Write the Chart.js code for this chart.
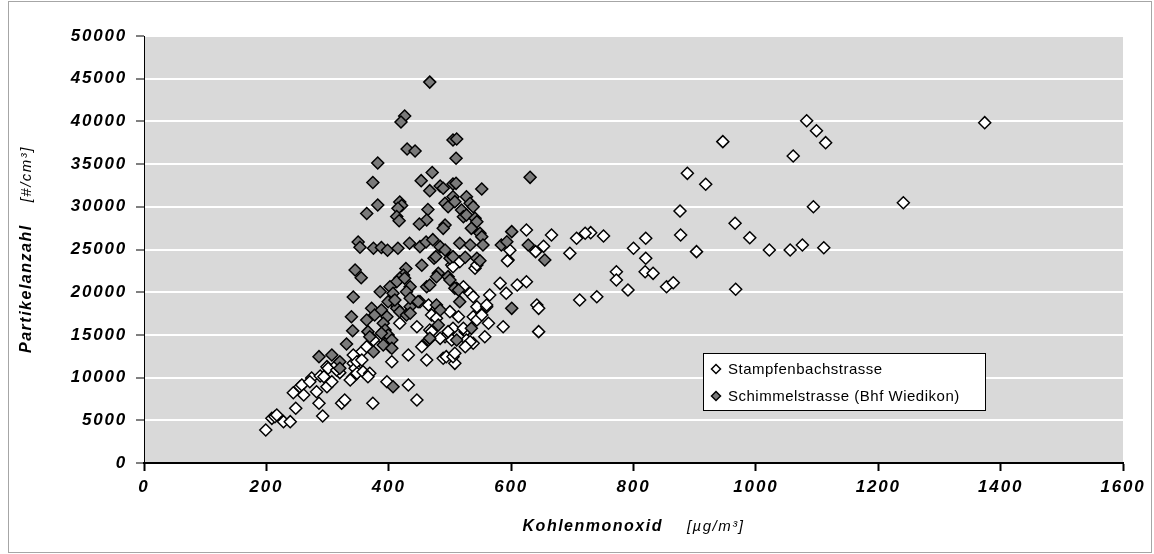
<!DOCTYPE html>
<html>
<head>
<meta charset="utf-8">
<script src="https://cdn.jsdelivr.net/npm/chart.js@4.4.0/dist/chart.umd.min.js"></script>
<style>
    html, body { margin: 0; padding: 0; background: #ffffff; }
    #wrap { position: relative; width: 1154px; height: 554px; }
    #frame { position: absolute; left: 8px; top: 1px; width: 1142px; height: 550px; border: 1px solid #a6a6a6; pointer-events: none; }
</style>
</head>
<body>
<div id="wrap">
    <canvas id="myChart" width="1154" height="554"></canvas>
    <div id="frame"></div>
</div>
<script>
"use strict";

// axis ranges / ticks
const xMin = 0, xMax = 1600, xStep = 200;
const yMin = 0, yMax = 50000, yStep = 5000;

const xTitle = "Kohlenmonoxid";
const xUnit = "[µg/m³]";
const yTitle = "Partikelanzahl";
const yUnit = "[#/cm³]";

const seriesNames = ["Stampfenbachstrasse", "Schimmelstrasse (Bhf Wiedikon)"];

// Stampfenbachstrasse: CO [µg/m3] and particle count [#/cm3]
const stampfenbachCO = [
    199, 209, 214, 217, 228, 239, 248, 244, 255, 258, 261, 274, 271, 282, 286, 292,
    288, 294, 299, 301, 299, 307, 320, 315, 323, 328, 342, 345, 342, 337, 348, 358,
    356, 364, 369, 366, 374, 386, 397, 405, 418, 432, 432, 446, 446, 451, 465, 454,
    470, 478, 462, 489, 494, 492, 505, 503, 500, 508, 505, 511, 514, 533, 538, 525,
    538, 527, 538, 544, 541, 544, 503, 516, 467, 470, 375, 342, 348, 356, 484, 497,
    315, 642, 645, 645, 587, 563, 557, 544, 560, 552, 522, 533, 525, 508, 640, 800,
    820, 819, 832, 772, 772, 791, 854, 865, 903, 740, 712, 595, 582, 610, 625, 592,
    565, 560, 820, 751, 730, 721, 707, 666, 625, 653, 696, 598, 594, 505, 522,
    1083, 1099, 1114, 1061, 946, 1374, 888, 918, 1094, 1241, 876, 877, 966, 990,
    1022, 1056, 1076, 1111, 967,
];
const stampfenbachPN = [
    3860, 5230, 5420, 5620, 4840, 4840, 6410, 8230, 8930, 9130, 7960, 9950, 9520, 8350, 6990, 5500,
    10190, 10110, 11280, 11090, 8930, 9520, 10580, 10890, 6990, 7380, 11670, 11090, 10110, 9720, 10500, 10690,
    13030, 13620, 10500, 10110, 6990, 14790, 9520, 11860, 16360, 12650, 9130, 7380, 15960, 18890, 18500, 13620,
    17330, 16940, 12060, 12260, 12450, 14790, 15770, 14400, 17720, 11670, 12450, 20460, 17130, 19870, 19470, 15380,
    14020, 14400, 17130, 16750, 22800, 23190, 23190, 23570, 15580, 15380, 14400, 12650, 11860, 12060, 14600, 15380,
    11480, 18500, 18110, 15380, 15960, 16360, 14790, 18300, 18300, 17330, 15770, 14200, 13620, 12850, 24750, 25140,
    23970, 22400, 22210, 22400, 21430, 20260, 20640, 21110, 24750, 19470, 19090, 23770, 21040, 20840, 21230, 19870,
    19670, 18500, 26310, 26580, 26970, 26900, 26310, 26700, 27280, 25370, 24550, 24910, 23690, 22990, 20640,
    40080, 38910, 37510, 35950, 37630, 39850, 33920, 32640, 30010, 30480, 29510, 26700, 28070, 26380,
    24940, 24940, 25530, 25210, 20340,
];

// Schimmelstrasse (Bhf Wiedikon)
const schimmelCO = [
    467, 426, 420, 430, 443, 382, 374, 471, 453, 467, 484, 489, 505, 382, 364, 418,
    421, 415, 413, 417, 464, 462, 450, 492, 497, 492, 489, 350, 353, 375, 388, 398,
    415, 434, 451, 461, 472, 484, 492, 345, 355, 428, 454, 474, 477, 500, 424, 418,
    413, 426, 481, 478, 497, 500, 386, 402, 407, 435, 429, 462, 467, 342, 631, 510,
    552, 505, 508, 527, 533, 538, 519, 522, 527, 541, 544, 535, 549, 552, 601, 516,
    533, 554, 584, 593, 628, 655, 505, 525, 544, 549, 508, 510, 505, 511, 372, 377,
    364, 388, 397, 391, 407, 413, 418, 435, 429, 478, 484, 481, 514, 516, 535, 339,
    341, 331, 366, 369, 394, 399, 402, 405, 375, 465, 467, 511, 286, 307, 320, 320,
    407, 399, 410, 435, 388, 391, 405, 435, 448, 601,
];
const schimmelPN = [
    44600, 40630, 39930, 36770, 36540, 35130, 32840, 34020, 33060, 31890, 32440, 32170, 32670, 30210, 29220, 30560,
    30150, 29830, 28870, 28370, 29690, 28460, 27990, 30410, 30010, 27870, 27480, 25880, 25260, 25140, 25240, 24910,
    25140, 25730, 25330, 25880, 26150, 25330, 24940, 22600, 21690, 22780, 23160, 23970, 24160, 23970, 22010, 21630,
    21230, 21630, 22210, 21820, 21820, 21430, 20060, 20640, 19870, 20640, 20060, 20640, 20840, 19440, 33450, 32750,
    32090, 31180, 30600, 31180, 30410, 30010, 29630, 28840, 29040, 28650, 28260, 27480, 26900, 26500, 27090, 25730,
    25530, 25530, 25530, 25910, 25530, 23770, 24160, 24090, 23970, 23690, 20460, 35680, 37820, 37940, 18120, 17330,
    16750, 17920, 17130, 16360, 18890, 18120, 17720, 18300, 17330, 18500, 17920, 16160, 20260, 18890, 15770, 17130,
    15490, 13930, 15380, 14790, 15580, 14990, 13620, 14400, 13030, 14400, 14600, 14400, 12450, 12650, 11860, 11090,
    8930, 18890, 19090, 17530, 15190, 13820, 13430, 19290, 18890, 18110,
];

const toPoints = (xs, ys) => xs.map((x, i) => ({ x: x, y: ys[i] }));

const fontFamily = "'Liberation Sans', Arial, sans-serif";
const tickFont = { family: fontFamily, size: 17, style: "italic", weight: "bold" };
const tickSpacing = "1.8px";

const plotBackground = {
    id: "plotBackground",
    beforeUpdate(chart) {
        chart.ctx.letterSpacing = tickSpacing;
    },
    beforeDraw(chart) {
        const { ctx, chartArea } = chart;
        ctx.letterSpacing = tickSpacing;
        ctx.save();
        ctx.fillStyle = "#d9d9d9";
        ctx.fillRect(chartArea.left, chartArea.top, chartArea.right - chartArea.left, chartArea.bottom - chartArea.top);
        ctx.restore();
    },
};

const drawDiamond = (ctx, x, y, r, fill) => {
    ctx.beginPath();
    ctx.moveTo(x - r, y);
    ctx.lineTo(x, y - r);
    ctx.lineTo(x + r, y);
    ctx.lineTo(x, y + r);
    ctx.closePath();
    ctx.fillStyle = fill;
    ctx.fill();
    ctx.lineWidth = 1.5;
    ctx.strokeStyle = "#000000";
    ctx.stroke();
};

// draws "title    [unit]" centred on (cx, cy) along the current x direction
const drawAxisTitle = (ctx, title, unit, cx, cy, gap) => {
    const boldF = "italic bold 16px " + fontFamily;
    const normF = "italic 15px " + fontFamily;
    ctx.font = boldF;
    const w1 = ctx.measureText(title).width;
    ctx.font = normF;
    const w2 = ctx.measureText(unit).width;
    const start = cx - (w1 + gap + w2) / 2;
    ctx.font = boldF;
    ctx.fillText(title, start, cy);
    ctx.font = normF;
    ctx.fillText(unit, start + w1 + gap, cy);
};

const titlesAndLegend = {
    id: "titlesAndLegend",
    afterDraw(chart) {
        const ctx = chart.ctx;
        const area = chart.chartArea;
        ctx.save();
        ctx.fillStyle = "#000000";
        ctx.textBaseline = "middle";
        ctx.textAlign = "left";
        ctx.letterSpacing = "1.5px";

        drawAxisTitle(ctx, xTitle, xUnit, (area.left + area.right) / 2, 527, 24);

        ctx.save();
        ctx.translate(27, (area.top + area.bottom) / 2);
        ctx.rotate(-Math.PI / 2);
        drawAxisTitle(ctx, yTitle, yUnit, 0, 0, 22);
        ctx.restore();

        // legend box
        const lx = 703, ly = 353, lw = 282, lh = 57;
        ctx.fillStyle = "#ffffff";
        ctx.fillRect(lx, ly, lw, lh);
        ctx.lineWidth = 1;
        ctx.strokeStyle = "#000000";
        ctx.strokeRect(lx + 0.5, ly + 0.5, lw, lh);
        ctx.letterSpacing = "0.5px";
        ctx.font = "15px " + fontFamily;
        chart.data.datasets.forEach((ds, i) => {
            const cy = ly + 16 + i * 27;
            drawDiamond(ctx, lx + 13, cy, 4.5, ds.backgroundColor);
            ctx.fillStyle = "#000000";
            ctx.fillText(ds.label, lx + 25, cy + 1);
        });
        ctx.restore();
    },
};

const ctx = document.getElementById("myChart").getContext("2d");

new Chart(ctx, {
    type: "scatter",
    data: {
        datasets: [
            {
                label: seriesNames[0],
                data: toPoints(stampfenbachCO, stampfenbachPN),
                pointStyle: "rectRot",
                pointRadius: 6,
                backgroundColor: "#ffffff",
                borderColor: "#000000",
                borderWidth: 1.5,
                order: 2,
            },
            {
                label: seriesNames[1],
                data: toPoints(schimmelCO, schimmelPN),
                pointStyle: "rectRot",
                pointRadius: 6,
                backgroundColor: "#7a7a7a",
                borderColor: "#000000",
                borderWidth: 1.5,
                order: 1,
            },
        ],
    },
    options: {
        responsive: false,
        animation: false,
        layout: { padding: { left: 0, top: 36, right: 31, bottom: 0 } },
        plugins: {
            legend: { display: false },
            tooltip: { enabled: false },
        },
        scales: {
            x: {
                type: "linear",
                min: xMin,
                max: xMax,
                ticks: { stepSize: xStep, color: "#000000", font: tickFont, padding: 6, maxRotation: 0, callback: (v) => String(v) },
                grid: { drawOnChartArea: false, tickColor: "#000000", tickLength: 8, tickWidth: 2 },
                border: { color: "#000000", width: 2 },
                afterFit: (scale) => { scale.height = 91; },
            },
            y: {
                type: "linear",
                min: yMin,
                max: yMax,
                ticks: { stepSize: yStep, color: "#000000", font: tickFont, padding: 9, callback: (v) => String(v) },
                grid: { color: "#ffffff", lineWidth: 2, tickColor: "#000000", tickLength: 8, tickWidth: 1 },
                border: { color: "#000000", width: 1 },
                afterFit: (scale) => { scale.width = 144; },
            },
        },
    },
    plugins: [plotBackground, titlesAndLegend],
});
</script>
</body>
</html>
